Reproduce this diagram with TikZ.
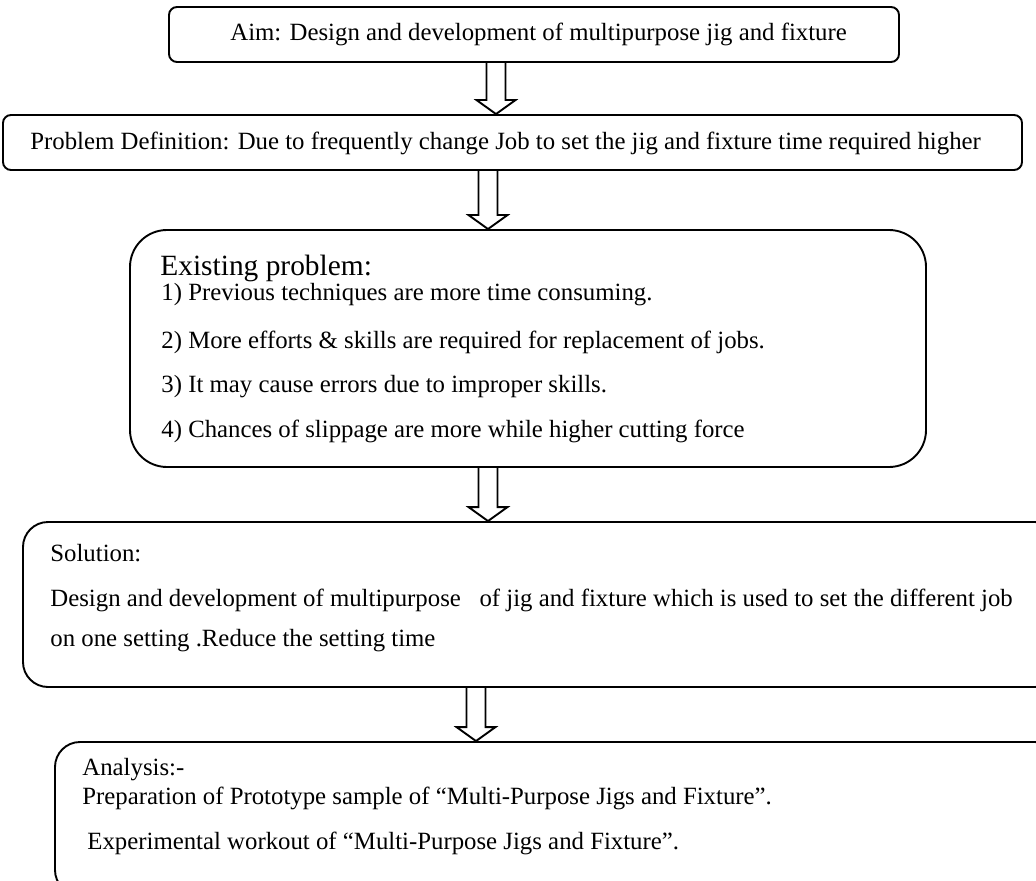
\documentclass[tikz,border=0pt]{standalone}
\usepackage{fontspec}
\setmainfont{Liberation Serif}
\usetikzlibrary{calc}
\newcommand\hollowarrow[3]{%
  \draw[harrow] ($(#1|-#2.south)+(-9.5,0)$) -- ($(#1|-#3.north)+(-9.5,-14)$)
    -- ($(#1|-#3.north)+(-19.5,-14)$) -- (#1|-#3.north)
    -- ($(#1|-#3.north)+(19.5,-14)$) -- ($(#1|-#3.north)+(9.5,-14)$)
    -- ($(#1|-#2.south)+(9.5,0)$);}
\begin{document}
\begin{tikzpicture}[x=0.5pt,y=-0.5pt,
  box/.style={draw, line width=0.95pt, inner sep=0pt},
  txt/.style={anchor=west, inner sep=0pt, font=\fontsize{12.4}{14}\selectfont},
  ctxt/.style={inner sep=0pt, font=\fontsize{12.4}{14}\selectfont},
  headtxt/.style={anchor=west, inner sep=0pt, font=\fontsize{14.7}{17}\selectfont},
  harrow/.style={draw, line width=0.95pt, line join=miter}]
\useasboundingbox (0,0) rectangle (1036,881);
\clip (0,0) rectangle (1036,881);
% boxes
\node[box, rounded corners=4pt, minimum width=365pt, minimum height=27.5pt] (aim) at (534,34.5) {};
\node[box, rounded corners=4pt, minimum width=509.5pt, minimum height=27.5pt] (prob) at (512.5,142.5) {};
\node[box, rounded corners=18.5pt, minimum width=398pt, minimum height=118.5pt] (exist) at (528,348.5) {};
\node[box, rounded corners=12.5pt, minimum width=518.5pt, minimum height=82.5pt] (sol) at (541.5,604.5) {};
\node[box, rounded corners=12.5pt, minimum width=502.5pt, minimum height=76.5pt] (ana) at (557.5,818.5) {};
% texts
\node[txt] (aimt) at (230,34) {Aim: Design and development of multipurpose jig and fixture};
\node[txt] (probt) at (30,143) {Problem Definition: Due to frequently change Job to set the jig and fixture time required higher};
\node[headtxt] (exh) at (160,268) {Existing problem:};
\node[txt] (ex1) at (161,295) {1) Previous techniques are more time consuming.};
\node[txt] (ex2) at (161,342) {2) More efforts \& skills are required for replacement of jobs.};
\node[txt] (ex3) at (161,387) {3) It may cause errors due to improper skills.};
\node[txt] (ex4) at (161,431) {4) Chances of slippage are more while higher cutting force};
\node[txt] (solh) at (50,553) {Solution:};
\node[txt] (sol1) at (50,600) {Design and development of multipurpose\ \ \ of jig and fixture which is used to set the different job};
\node[txt] (sol2) at (50,641) {on one setting .Reduce the setting time};
\node[txt] (anah) at (82,770) {Analysis:-};
\node[txt] (ana1) at (82,798) {Preparation of Prototype sample of “Multi-Purpose Jigs and Fixture”.};
\node[txt] (ana2) at (87,843) {Experimental workout of “Multi-Purpose Jigs and Fixture”.};
% arrows
\coordinate (c1) at (496,0);
\coordinate (c2) at (488,0);
\coordinate (c3) at (488,0);
\coordinate (c4) at (476,0);
\hollowarrow{c1}{aim}{prob}
\hollowarrow{c2}{prob}{exist}
\hollowarrow{c3}{exist}{sol}
\hollowarrow{c4}{sol}{ana}
\end{tikzpicture}
\end{document}
